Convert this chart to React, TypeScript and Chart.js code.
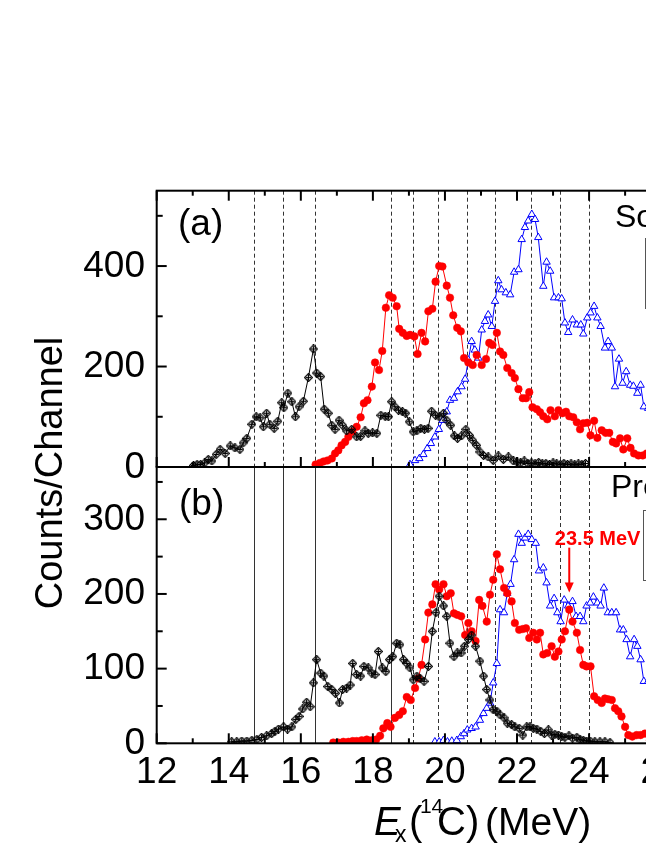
import React, { useEffect, useRef } from 'react';
import { Chart, registerables } from 'chart.js';

Chart.register(...registerables);

// ---------------- axes / ticks ----------------
const xRange = [12, 28];
const xMajorTicks = [12, 14, 16, 18, 20, 22, 24, 26, 28];
const xMinorTicks = [13, 15, 17, 19, 21, 23, 25, 27];
const aRange = [0, 550];
const aMajorTicks = [0, 200, 400];
const aMinorTicks = [100, 300, 500];
const bRange = [0, 370];
const bMajorTicks = [0, 100, 200, 300];
const bMinorTicks = [50, 150, 250, 350];

// vertical level lines (MeV); solid in panel (b) for the first four
const levelEnergies = [14.7, 15.5, 16.4, 18.5, 19.1, 19.8, 20.6, 21.4, 22.4, 23.2, 24.0];
const levelSolidInB = [true, true, true, true, false, false, false, false, false, false, false];

const seriesLabels = ['\u00B9\u2070Be(0\u207A)+\u03B1', '\u00B9\u2070Be(2\u207A)+\u03B1', '\u00B9\u2070Be(~6 MeV)+\u03B1'];
const panelTags = ['(a)', '(b)'];
const panelTitles = ['Soi\u0107 et al.', 'Present work'];

// annotation in panel (b)
const annotText = '23.5 MeV';
const annotEnergy = 23.45;
const annotTextEnergy = 23.05;
const annotTextCount = 265;
const annotArrowFrom = 262;
const annotArrowTo = 202;

// ---------------- data: panel (a) ----------------
const soicBlack = [
  [13.02, 3], [13.12, 5], [13.22, 5], [13.33, 8], [13.43, 15], [13.53, 12], [13.65, 25], [13.76, 35], [13.9, 27], [14.04, 42],
  [14.17, 38], [14.31, 35], [14.4, 48], [14.5, 57], [14.64, 85], [14.76, 100], [14.87, 98], [14.96, 80], [15.05, 107], [15.14, 85],
  [15.26, 77], [15.36, 91], [15.47, 128], [15.53, 118], [15.64, 147], [15.75, 130], [15.85, 100], [15.95, 120], [16.07, 131], [16.21, 178],
  [16.35, 235], [16.44, 187], [16.55, 180], [16.65, 115], [16.76, 107], [16.86, 83], [16.95, 75], [17.06, 93], [17.16, 83], [17.27, 72],
  [17.41, 75], [17.55, 60], [17.66, 61], [17.78, 72], [17.87, 67], [17.99, 68], [18.11, 67], [18.22, 103], [18.34, 101], [18.43, 100],
  [18.52, 130], [18.61, 120], [18.71, 113], [18.82, 110], [18.91, 107], [19.01, 90], [19.12, 70], [19.22, 72], [19.33, 77], [19.43, 75],
  [19.53, 77], [19.63, 111], [19.74, 103], [19.84, 100], [19.96, 107], [20.05, 93], [20.16, 83], [20.26, 62], [20.35, 57], [20.46, 62],
  [20.58, 75], [20.68, 63], [20.77, 53], [20.88, 43], [20.97, 30], [21.07, 23], [21.2, 20], [21.34, 13], [21.48, 22], [21.62, 15],
  [21.76, 20], [21.9, 12], [22.0, 10], [22.1, 8], [22.2, 12], [22.3, 7], [22.4, 8], [22.5, 6], [22.6, 9], [22.7, 6],
  [22.8, 7], [22.9, 5], [23.0, 8], [23.1, 6], [23.2, 5], [23.3, 7], [23.4, 5], [23.5, 6], [23.6, 4], [23.7, 6],
  [23.8, 5], [23.9, 7],
];

const soicRed = [
  [16.41, 5], [16.53, 8], [16.63, 11], [16.74, 13], [16.86, 17], [16.95, 27], [17.04, 33], [17.13, 43], [17.23, 50], [17.32, 60],
  [17.43, 70], [17.55, 80], [17.66, 99], [17.75, 127], [17.85, 133], [17.97, 160], [18.06, 208], [18.17, 193], [18.26, 231], [18.36, 317],
  [18.45, 342], [18.55, 337], [18.66, 320], [18.73, 275], [18.83, 267], [18.94, 261], [19.03, 263], [19.15, 260], [19.24, 225], [19.35, 267],
  [19.45, 250], [19.54, 310], [19.65, 315], [19.74, 369], [19.84, 400], [19.93, 399], [20.05, 361], [20.14, 337], [20.23, 302], [20.34, 277],
  [20.44, 270], [20.53, 217], [20.65, 208], [20.77, 203], [20.88, 223], [21.02, 203], [21.14, 215], [21.23, 247], [21.32, 243], [21.44, 267],
  [21.53, 230], [21.62, 223], [21.73, 197], [21.85, 187], [21.94, 177], [22.04, 155], [22.16, 137], [22.25, 137], [22.34, 149], [22.43, 119],
  [22.55, 115], [22.64, 109], [22.73, 101], [22.84, 95], [22.93, 113], [23.05, 101], [23.15, 113], [23.26, 107], [23.36, 110], [23.45, 101],
  [23.56, 99], [23.66, 89], [23.75, 75], [23.84, 87], [23.95, 88], [24.04, 63], [24.14, 92], [24.23, 58], [24.35, 73], [24.46, 68],
  [24.56, 68], [24.66, 50], [24.75, 47], [24.86, 57], [24.95, 35], [25.06, 57], [25.15, 38], [25.25, 27], [25.37, 23], [25.49, 23],
  [25.6, 27], [25.74, 20], [25.85, 15], [25.95, 17], [26.05, 12], [26.15, 10], [26.3, 8],
];

const soicBlue = [
  [19.03, 5], [19.17, 13], [19.29, 17], [19.4, 25], [19.51, 37], [19.61, 47], [19.72, 60], [19.83, 75], [19.94, 93], [20.05, 110],
  [20.14, 133], [20.25, 137], [20.35, 150], [20.46, 160], [20.56, 175], [20.65, 213], [20.74, 250], [20.83, 233], [20.93, 217], [21.02, 273],
  [21.11, 290], [21.2, 303], [21.3, 280], [21.39, 330], [21.48, 371], [21.57, 353], [21.69, 347], [21.81, 343], [21.92, 388], [22.04, 393],
  [22.13, 453], [22.22, 477], [22.31, 490], [22.41, 503], [22.5, 493], [22.59, 457], [22.73, 360], [22.82, 408], [22.92, 390], [23.03, 337],
  [23.15, 337], [23.24, 335], [23.33, 287], [23.42, 268], [23.54, 293], [23.66, 283], [23.77, 283], [23.84, 265], [23.95, 297], [24.04, 307],
  [24.14, 320], [24.23, 297], [24.32, 280], [24.44, 237], [24.53, 250], [24.63, 237], [24.72, 160], [24.83, 215], [24.93, 167], [25.03, 190],
  [25.14, 163], [25.23, 161], [25.34, 147], [25.43, 163], [25.52, 120], [25.64, 117], [25.74, 120], [25.85, 110], [25.95, 112], [26.05, 100],
  [26.15, 95], [26.3, 90],
];

// ---------------- data: panel (b) ----------------
const presentBlack = [
  [14.08, 2], [14.22, 2], [14.36, 3], [14.5, 3], [14.64, 4], [14.78, 5], [14.91, 8], [15.05, 10], [15.19, 13], [15.28, 16],
  [15.38, 19], [15.52, 22], [15.63, 19], [15.75, 22], [15.86, 32], [15.95, 36], [16.05, 46], [16.16, 55], [16.26, 49], [16.35, 81],
  [16.44, 112], [16.55, 94], [16.64, 90], [16.75, 76], [16.86, 72], [16.96, 67], [17.07, 54], [17.16, 72], [17.27, 74], [17.37, 78],
  [17.44, 107], [17.55, 92], [17.66, 90], [17.75, 103], [17.87, 101], [17.97, 94], [18.06, 92], [18.15, 123], [18.26, 101], [18.36, 96],
  [18.46, 112], [18.55, 116], [18.66, 134], [18.75, 132], [18.85, 112], [18.94, 107], [19.03, 101], [19.12, 85], [19.22, 90], [19.31, 87],
  [19.42, 83], [19.54, 103], [19.65, 150], [19.75, 175], [19.84, 197], [19.96, 184], [20.05, 170], [20.14, 134], [20.25, 116], [20.34, 121],
  [20.45, 121], [20.54, 130], [20.65, 139], [20.74, 145], [20.85, 130], [20.97, 110], [21.07, 90], [21.16, 72], [21.25, 58], [21.34, 45],
  [21.44, 43], [21.53, 38], [21.64, 34], [21.73, 27], [21.85, 25], [21.94, 22], [22.06, 20], [22.16, 11], [22.27, 22], [22.36, 22],
  [22.45, 20], [22.55, 19], [22.66, 16], [22.76, 13], [22.87, 18], [22.96, 11], [23.05, 12], [23.15, 11], [23.24, 9], [23.33, 8],
  [23.44, 10], [23.54, 7], [23.66, 8], [23.75, 5], [23.84, 4], [23.93, 3], [24.03, 3], [24.16, 2], [24.3, 2], [24.44, 2],
  [24.58, 1],
];

const presentRed = [
  [16.9, 1], [17.04, 1], [17.18, 2], [17.32, 2], [17.44, 3], [17.55, 3], [17.69, 4], [17.83, 5], [17.97, 4], [18.09, 5],
  [18.2, 10], [18.29, 20], [18.4, 27], [18.49, 22], [18.61, 34], [18.73, 38], [18.83, 43], [18.94, 62], [19.05, 58], [19.17, 74],
  [19.26, 87], [19.35, 105], [19.45, 139], [19.54, 175], [19.65, 186], [19.74, 213], [19.84, 206], [19.96, 213], [20.05, 197], [20.16, 201],
  [20.25, 174], [20.34, 172], [20.45, 170], [20.56, 145], [20.65, 161], [20.74, 150], [20.85, 137], [20.95, 192], [21.04, 184], [21.16, 163],
  [21.25, 199], [21.34, 219], [21.44, 253], [21.53, 233], [21.64, 208], [21.73, 201], [21.85, 190], [21.94, 161], [22.06, 152], [22.16, 153],
  [22.25, 154], [22.34, 141], [22.45, 148], [22.55, 139], [22.64, 148], [22.73, 119], [22.84, 121], [22.96, 130], [23.05, 116], [23.15, 123],
  [23.24, 139], [23.33, 150], [23.45, 179], [23.54, 163], [23.66, 148], [23.75, 125], [23.84, 105], [23.93, 103], [24.04, 103], [24.14, 63],
  [24.24, 58], [24.35, 54], [24.44, 60], [24.53, 59], [24.63, 58], [24.72, 47], [24.81, 43], [24.9, 36], [25.0, 22], [25.09, 11],
  [25.2, 9], [25.32, 11], [25.43, 11], [25.55, 13], [25.69, 4], [25.8, 3], [25.95, 2],
];

const presentBlue = [
  [19.72, 2], [19.84, 2], [19.96, 4], [20.07, 2], [20.19, 3], [20.33, 4], [20.44, 9], [20.53, 13], [20.62, 18], [20.74, 20],
  [20.85, 22], [20.97, 31], [21.07, 40], [21.16, 47], [21.25, 54], [21.34, 81], [21.44, 107], [21.53, 179], [21.64, 175], [21.73, 201],
  [21.82, 213], [21.92, 246], [22.04, 280], [22.13, 268], [22.22, 275], [22.31, 280], [22.41, 273], [22.52, 268], [22.61, 231], [22.73, 235],
  [22.82, 215], [22.92, 184], [23.03, 194], [23.12, 175], [23.21, 163], [23.31, 192], [23.42, 184], [23.54, 190], [23.64, 170], [23.75, 170],
  [23.84, 163], [23.93, 184], [24.03, 188], [24.12, 196], [24.23, 188], [24.32, 184], [24.41, 208], [24.52, 175], [24.63, 175], [24.75, 175],
  [24.86, 152], [24.95, 152], [25.04, 139], [25.14, 116], [25.25, 139], [25.34, 130], [25.43, 112], [25.52, 83], [25.64, 83], [25.74, 76],
  [25.85, 70], [25.95, 62], [26.05, 55], [26.2, 50],
];

// ---------------- drawing helpers ----------------
const FONT = '"Liberation Sans", Arial, Helvetica, sans-serif';
const RED = '#ff0000';
const BLUE = '#0000ff';

const toXY = (pts: number[][]) => pts.map(([x, y]) => ({ x, y }));

function makeDiamond(): HTMLCanvasElement {
  const c = document.createElement('canvas');
  c.width = 9;
  c.height = 9;
  const g = c.getContext('2d')!;
  g.strokeStyle = '#000';
  g.lineWidth = 1.2;
  g.beginPath();
  g.moveTo(4.5, 0.5);
  g.lineTo(8.5, 4.5);
  g.lineTo(4.5, 8.5);
  g.lineTo(0.5, 4.5);
  g.closePath();
  g.stroke();
  g.beginPath();
  g.moveTo(4.5, 2);
  g.lineTo(4.5, 7);
  g.moveTo(2, 4.5);
  g.lineTo(7, 4.5);
  g.stroke();
  return c;
}

function seg(ctx: CanvasRenderingContext2D, x1: number, y1: number, x2: number, y2: number) {
  ctx.beginPath();
  ctx.moveTo(x1, y1);
  ctx.lineTo(x2, y2);
  ctx.stroke();
}

function txt(ctx: CanvasRenderingContext2D, s: string, x: number, y: number, font: string, align: CanvasTextAlign = 'left', color = '#000') {
  ctx.font = font;
  ctx.textAlign = align;
  ctx.textBaseline = 'alphabetic';
  ctx.fillStyle = color;
  ctx.fillText(s, x, y);
}

const overlayPlugin = {
  id: 'overlay',
  beforeDatasetsDraw(chart: any) {
    const ctx: CanvasRenderingContext2D = chart.ctx;
    const xs = chart.scales.x, ya = chart.scales.ya, yb = chart.scales.yb;
    ctx.save();
    ctx.strokeStyle = '#333';
    ctx.lineWidth = 1;
    levelEnergies.forEach((e, i) => {
      const p = Math.round(xs.getPixelForValue(e)) + 0.5;
      ctx.setLineDash([4, 3]);
      seg(ctx, p, ya.top, p, ya.bottom);
      ctx.setLineDash(levelSolidInB[i] ? [] : [4, 3]);
      seg(ctx, p, yb.top, p, yb.bottom);
    });
    ctx.restore();
  },
  afterDraw(chart: any) {
    const ctx: CanvasRenderingContext2D = chart.ctx;
    const xs = chart.scales.x, ya = chart.scales.ya, yb = chart.scales.yb;
    const L = xs.left, R = xs.right;
    ctx.save();
    ctx.setLineDash([]);

    // frames
    ctx.strokeStyle = '#000';
    ctx.lineWidth = 2;
    ctx.strokeRect(L, ya.top, R - L, ya.bottom - ya.top);
    ctx.strokeRect(L, yb.top, R - L, yb.bottom - yb.top);

    // x ticks (inward)
    const xTick = (v: number, len: number) => {
      const p = xs.getPixelForValue(v);
      seg(ctx, p, ya.top, p, ya.top + len);
      seg(ctx, p, ya.bottom, p, ya.bottom - len);
      seg(ctx, p, yb.bottom, p, yb.bottom - len);
    };
    xMajorTicks.forEach((v) => xTick(v, 10));
    xMinorTicks.forEach((v) => xTick(v, 5));

    // y ticks (inward)
    const yTick = (sc: any, v: number, len: number) => {
      const p = sc.getPixelForValue(v);
      seg(ctx, L, p, L + len, p);
    };
    aMajorTicks.forEach((v) => yTick(ya, v, 10));
    aMinorTicks.forEach((v) => yTick(ya, v, 6));
    bMajorTicks.forEach((v) => yTick(yb, v, 10));
    bMinorTicks.forEach((v) => yTick(yb, v, 6));

    // tick labels
    const tickFont = `37px ${FONT}`;
    xMajorTicks.forEach((v) => txt(ctx, String(v), xs.getPixelForValue(v), yb.bottom + 40, tickFont, 'center'));
    aMajorTicks.forEach((v) => txt(ctx, String(v), L - 11.7, ya.getPixelForValue(v) + 10.5, tickFont, 'right'));
    bMajorTicks.forEach((v) => txt(ctx, String(v), L - 11.7, yb.getPixelForValue(v) + 10.5, tickFont, 'right'));

    // y axis title
    ctx.save();
    ctx.translate(L - 94.7, (ya.top + yb.bottom) / 2 + 6);
    ctx.rotate(-Math.PI / 2);
    txt(ctx, 'Counts/Channel', 0, 0, `38px ${FONT}`, 'center');
    ctx.restore();

    // x axis title: E_x(^14C) (MeV)
    const tb = yb.bottom + 91.7;
    txt(ctx, 'E', L + 217.3, tb, `italic 40px ${FONT}`);
    txt(ctx, 'x', L + 238.3, tb + 6.7, `23px ${FONT}`);
    txt(ctx, '(', L + 252.3, tb, `40px ${FONT}`);
    txt(ctx, '14', L + 263.2, tb - 21.7, `21px ${FONT}`);
    txt(ctx, 'C)', L + 280.3, tb, `40px ${FONT}`);
    txt(ctx, '(MeV)', L + 328.3, tb, `39px ${FONT}`);

    // panel tags and titles
    txt(ctx, panelTags[0], L + 21.3, ya.top + 44.3, `37px ${FONT}`);
    txt(ctx, panelTags[1], L + 22.3, yb.top + 47.7, `37px ${FONT}`);
    txt(ctx, panelTitles[0], L + 458.3, ya.top + 36.5, `32px ${FONT}`);
    txt(ctx, panelTitles[1], L + 454.3, yb.top + 30, `32px ${FONT}`);

    // legends
    const colors = ['#000', RED, BLUE];
    const drawLegend = (bx: number, by: number, offs: number[]) => {
      ctx.strokeStyle = '#555';
      ctx.lineWidth = 1;
      ctx.strokeRect(Math.round(bx) + 0.5, Math.round(by) + 0.5, 92, 70);
      offs.forEach((o, i) => {
        ctx.strokeStyle = colors[i];
        ctx.lineWidth = 1;
        seg(ctx, bx + 5, by + o, bx + 30, by + o);
        txt(ctx, seriesLabels[i], bx + 34, by + o + 4, `11px ${FONT}`, 'left', '#000');
      });
    };
    drawLegend(L + 488.3, ya.top + 47.6, [11.7, 36, 60]);
    drawLegend(L + 486.6, yb.top + 42.7, [13.3, 36.7, 60]);

    // annotation
    const ax = xs.getPixelForValue(annotEnergy);
    txt(ctx, annotText, xs.getPixelForValue(annotTextEnergy), yb.getPixelForValue(annotTextCount), `bold 20px ${FONT}`, 'left', RED);
    const ay1 = yb.getPixelForValue(annotArrowFrom);
    const ay2 = yb.getPixelForValue(annotArrowTo);
    ctx.strokeStyle = RED;
    ctx.fillStyle = RED;
    ctx.lineWidth = 2;
    seg(ctx, ax, ay1, ax, ay2 - 8);
    ctx.beginPath();
    ctx.moveTo(ax, ay2);
    ctx.lineTo(ax - 4.5, ay2 - 10);
    ctx.lineTo(ax + 4.5, ay2 - 10);
    ctx.closePath();
    ctx.fill();

    ctx.restore();
  },
};

export default function App() {
  const ref = useRef<HTMLCanvasElement>(null);
  useEffect(() => {
    document.documentElement.style.overflow = 'hidden';
    const canvas = ref.current!;
    const diamond = makeDiamond();
    const blackStyle = (pts: number[][], label: string, axis: string) => ({
      label, data: toXY(pts), yAxisID: axis, xAxisID: 'x',
      borderColor: '#000', borderWidth: 1, pointStyle: diamond, pointRadius: 4,
      pointBorderColor: '#000', pointBackgroundColor: 'rgba(0,0,0,0)', fill: false, tension: 0,
    });
    const redStyle = (pts: number[][], label: string, axis: string) => ({
      label, data: toXY(pts), yAxisID: axis, xAxisID: 'x',
      borderColor: RED, borderWidth: 1, pointStyle: 'circle', pointRadius: 3.8, pointBorderWidth: 0.5,
      pointBorderColor: RED, pointBackgroundColor: RED, fill: false, tension: 0,
    });
    const blueStyle = (pts: number[][], label: string, axis: string) => ({
      label, data: toXY(pts), yAxisID: axis, xAxisID: 'x',
      borderColor: BLUE, borderWidth: 1, pointStyle: 'triangle', pointRadius: 4.3, pointBorderWidth: 1,
      pointBorderColor: BLUE, pointBackgroundColor: '#ffffff', fill: false, tension: 0,
    });
    const chart = new Chart(canvas, {
      type: 'line',
      data: {
        datasets: [
          blackStyle(soicBlack, seriesLabels[0], 'ya'),
          redStyle(soicRed, seriesLabels[1], 'ya'),
          blueStyle(soicBlue, seriesLabels[2], 'ya'),
          blackStyle(presentBlack, seriesLabels[0], 'yb'),
          redStyle(presentRed, seriesLabels[1], 'yb'),
          blueStyle(presentBlue, seriesLabels[2], 'yb'),
        ] as any,
      },
      options: {
        animation: false,
        responsive: false,
        maintainAspectRatio: false,
        layout: { padding: { left: 148.7, top: 182.7, right: 74.8, bottom: 102.7 } },
        plugins: { legend: { display: false }, tooltip: { enabled: false } },
        scales: {
          x: { type: 'linear', min: xRange[0], max: xRange[1], display: false, ticks: { display: false } },
          ya: { type: 'linear', position: 'left', min: aRange[0], max: aRange[1], display: false, ticks: { display: false }, stack: 'panels', stackWeight: 1, weight: 2 },
          yb: { type: 'linear', position: 'left', min: bRange[0], max: bRange[1], display: false, ticks: { display: false }, stack: 'panels', stackWeight: 1, weight: 1 },
        },
      } as any,
      plugins: [overlayPlugin],
    });
    return () => chart.destroy();
  }, []);
  return (
    <div style={{ width: 646, height: 838, overflow: 'hidden' }}>
      <canvas ref={ref} width={800} height={838} style={{ display: 'block' }} />
    </div>
  );
}
